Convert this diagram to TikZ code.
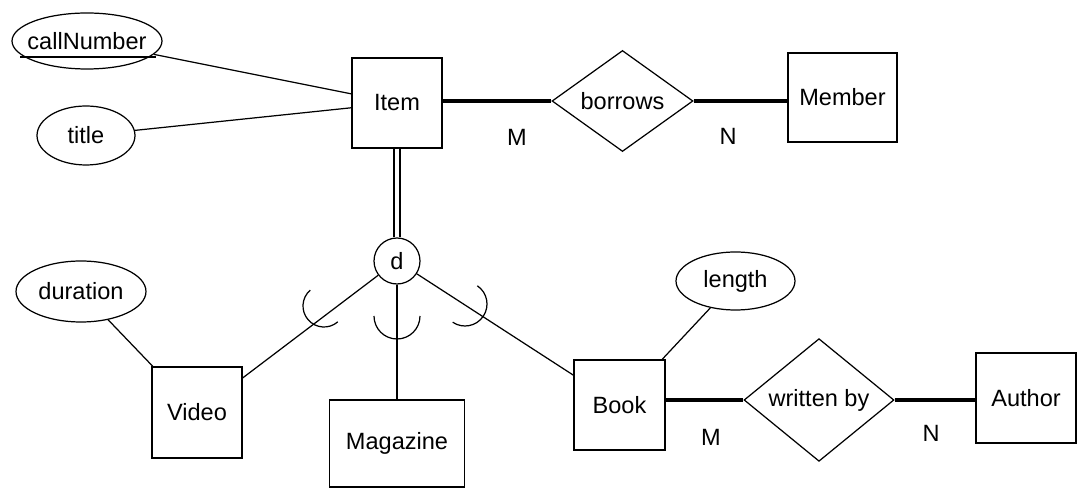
\documentclass[tikz,border=0pt]{standalone}
\usepackage{fontspec}
\setmainfont{Liberation Sans}
\usetikzlibrary{shapes.geometric,calc}
\tikzset{
  entity/.style={
    shape = rectangle,
    draw,
    line width = 0.8pt,
    inner sep = 0pt
  },
  attribute/.style={
    shape = ellipse,
    draw,
    line width = 0.7pt,
    inner xsep = -5pt,
    inner ysep = 0pt
  },
  relation/.style={
    shape = diamond,
    draw,
    line width = 0.7pt,
    inner sep = 0pt
  },
  disjoint/.style={
    shape = circle,
    draw,
    line width = 0.7pt,
    inner sep = 0pt,
    minimum size = 0.92cm
  },
  card/.style={
    inner sep = 0pt
  },
  link/.style={
    line width = 0.7pt
  },
  heavy/.style={
    line width = 1.8pt
  },
  isa/.style={
    double,
    double distance = 2pt,
    line width = 1.2pt
  },
  every picture/.style = {
    x = 0.02cm,
    y = -0.02cm,
    font = \fontsize{13.4}{16}\selectfont
  }
}

\begin{document}
\begin{tikzpicture}
        \useasboundingbox (0,0) rectangle (1079,489);
        % entities
        \node[entity, minimum width=1.8cm, minimum height=1.8cm] (Item) at (397,103) {Item};
        \node[entity, minimum width=2.18cm, minimum height=1.78cm] (Member) at (842.5,97.5) {Member};
        \node[entity, minimum width=1.8cm, minimum height=1.82cm] (Video) at (197,412.5) {Video};
        \node[entity, minimum width=2.7cm, minimum height=1.74cm] (Magazine) at (397,443.5) {Magazine};
        \node[entity, minimum width=1.82cm, minimum height=1.8cm] (Book) at (619.5,405) {Book};
        \node[entity, minimum width=2cm, minimum height=1.8cm] (Author) at (1026,398) {Author};
        % attributes
        \node[attribute, minimum width=3cm, minimum height=1.12cm] (callNumber) at (87,41) {callNumber};
        \node[attribute, minimum width=1.96cm, minimum height=1.18cm] (title) at (86,135.5) {title};
        \node[attribute, minimum width=2.6cm, minimum height=1.22cm] (duration) at (81,291.5) {duration};
        \node[attribute, minimum width=2.38cm, minimum height=1.16cm] (length) at (735.5,281) {length};
        \draw[link] ($(callNumber.center)+(-67,16)$) -- ++(136,0);
        % relationships
        \node[relation, minimum width=2.82cm, minimum height=1.64cm] (borrows) at (622.5,101) {borrows};
        \node[relation, minimum width=3cm, minimum height=1.62cm] (writtenBy) at (819,400) {written by};
        \node[disjoint] (d) at (397,261) {d};
        % cardinalities
        \node[card] (mBorrows) at (517,137) {M};
        \node[card] (nBorrows) at (728,136) {N};
        \node[card] (mWritten) at (711,437) {M};
        \node[card] (nWritten) at (931,433) {N};
        % connectors
        \draw[link] (callNumber) -- (Item);
        \draw[link] (title) -- (Item);
        \draw[link] (duration) -- (Video);
        \draw[link] (length) -- (Book);
        \draw[heavy] (Item.east |- borrows) -- (borrows.west);
        \draw[heavy] (borrows.east) -- (borrows.east -| Member.west);
        \draw[heavy] (Book.east |- writtenBy) -- (writtenBy.west);
        \draw[heavy] (writtenBy.east) -- (writtenBy.east -| Author.west);
        \draw[isa] (Item) -- (d);
        \draw[link] (d) -- (Video);
        \draw[link] (d) -- (Magazine);
        \draw[link] (d) -- (Book);
        % subset marks
        \coordinate (subVideo) at (324,306);
        \coordinate (subMagazine) at (397,316);
        \coordinate (subBook) at (465,304);
        \draw[link] (subVideo) ++(229:21) arc[start angle=229, end angle=49, radius=21];
        \draw[link] (subMagazine) ++(180:23) arc[start angle=180, end angle=0, radius=23];
        \draw[link] (subBook) ++(-56:22) arc[start angle=-56, end angle=124, radius=22];
\end{tikzpicture}
\end{document}
